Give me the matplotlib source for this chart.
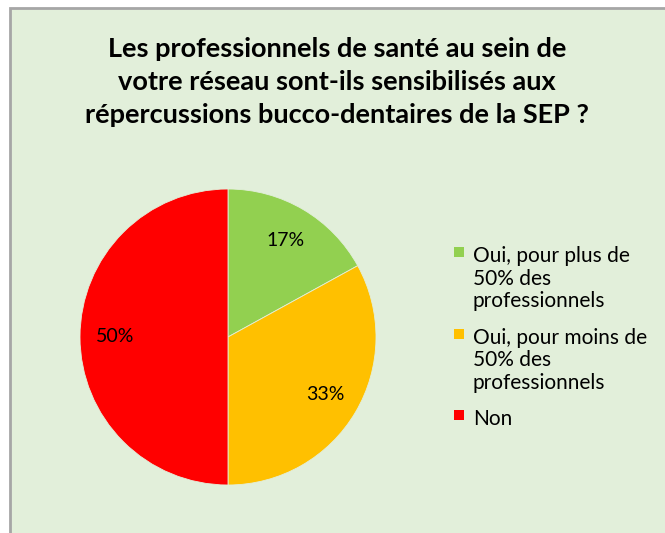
import matplotlib
matplotlib.use("Agg")
import matplotlib.pyplot as plt
from matplotlib.patches import Rectangle

plt.rcParams['font.family'] = ['Lato', 'DejaVu Sans']

# Data
categories = ["Oui, pour plus de\n50% des\nprofessionnels",
              "Oui, pour moins de\n50% des\nprofessionnels",
              "Non"]
values = [17, 33, 50]
colors = ["#92d050", "#ffc000", "#ff0000"]
title = "Les professionnels de santé au sein de\nvotre réseau sont-ils sensibilisés aux\nrépercussions bucco-dentaires de la SEP ?"

W, H = 665, 533
fig = plt.figure(figsize=(W / 100, H / 100), dpi=100, facecolor="white")

# Chart area panel (extends beyond right/bottom edges)
panel = Rectangle((10 / W, -0.05), 1.1, 1 - 8 / H + 0.05, transform=fig.transFigure,
                  facecolor="#e2efda", edgecolor="#a6a6a6", linewidth=2, zorder=-5)
fig.patches.append(panel)

# Title
fig.text(337 / W, 1 - 82 / H, title, ha="center", va="center", fontsize=19.5,
         fontweight="bold", color="black", linespacing=1.47)

# Pie
cx, cy, r = 228, 337, 148
ax = fig.add_axes([(cx - r) / W, (H - cy - r) / H, 2 * r / W, 2 * r / H])
ax.set_facecolor("none")
ax.set_zorder(2)
wedges, texts, autotexts = ax.pie(values, colors=colors, startangle=90, counterclock=False,
                                  autopct=lambda p: f"{p:.0f}%", pctdistance=0.76,
                                  wedgeprops=dict(linewidth=0.6, edgecolor="#e2efda"),
                                  textprops=dict(fontsize=14, color="black"))
ax.set_xlim(-1, 1)
ax.set_ylim(-1, 1)
ax.set_aspect("equal")
ax.axis("off")

# Legend (manual, handle aligned with first line)
lx, ly0 = 459, 252
line_h = 23.5
y = ly0
for lab, col in zip(categories, colors):
    sq = Rectangle(((lx - 5) / W, (H - y - 5) / H), 10 / W, 10 / H, transform=fig.transFigure,
                   facecolor=col, edgecolor="none", zorder=3)
    fig.patches.append(sq)
    nlines = lab.count("\n") + 1
    fig.text((lx + 14) / W, 1 - (y - 6) / H, lab, ha="left", va="top", fontsize=15,
             color="black", linespacing=1.17)
    y += nlines * line_h + 11

fig.savefig("out.png", dpi=100, facecolor="white")
